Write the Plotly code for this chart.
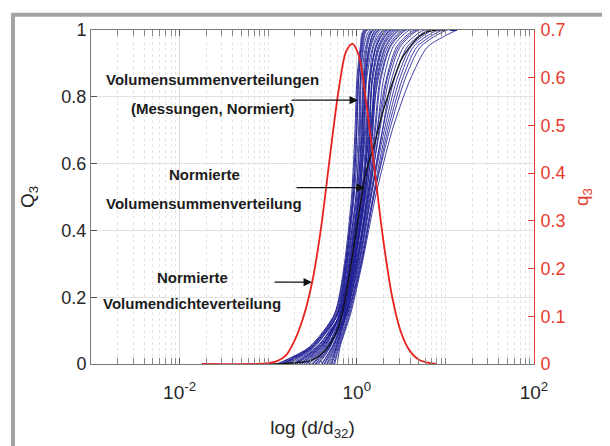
import numpy as np
import plotly.graph_objects as go

# ---------------- data ----------------
# Q3 levels at which each measured cumulative curve is sampled
q3_levels = [0.0, 0.05, 0.15, 0.30, 0.50, 0.70, 0.85, 0.95, 1.0]
# log10(d/d32) of each measured (normalised) curve at those Q3 levels
measured_log_x = [
    [-0.85, -0.51, -0.25, -0.14, -0.06, -0.02, 0.00, 0.04, 0.08],
    [-0.71, -0.44, -0.22, -0.13, -0.04, 0.00, 0.02, 0.06, 0.11],
    [-0.89, -0.53, -0.24, -0.12, -0.03, 0.02, 0.04, 0.08, 0.15],
    [-0.57, -0.37, -0.19, -0.11, -0.01, 0.04, 0.05, 0.10, 0.17],
    [-0.78, -0.48, -0.22, -0.10, 0.00, 0.06, 0.08, 0.14, 0.22],
    [-0.43, -0.30, -0.17, -0.08, 0.02, 0.06, 0.08, 0.12, 0.19],
    [-0.64, -0.41, -0.19, -0.07, 0.03, 0.09, 0.11, 0.18, 0.27],
    [-0.82, -0.50, -0.21, -0.06, 0.05, 0.11, 0.14, 0.22, 0.33],
    [-0.50, -0.33, -0.16, -0.05, 0.06, 0.14, 0.17, 0.25, 0.38],
    [-0.36, -0.26, -0.14, -0.04, 0.08, 0.16, 0.20, 0.29, 0.43],
    [-0.68, -0.42, -0.17, -0.03, 0.09, 0.18, 0.23, 0.33, 0.49],
    [-0.29, -0.23, -0.12, -0.02, 0.10, 0.20, 0.26, 0.37, 0.54],
    [-0.54, -0.35, -0.15, -0.01, 0.12, 0.23, 0.33, 0.45, 0.65],
    [-0.75, -0.46, -0.17, 0.00, 0.13, 0.26, 0.36, 0.49, 0.70],
    [-0.40, -0.28, -0.12, 0.02, 0.15, 0.29, 0.42, 0.57, 0.81],
    [-0.26, -0.21, -0.09, 0.04, 0.18, 0.33, 0.48, 0.64, 0.92],
    [-0.47, -0.32, -0.11, 0.05, 0.19, 0.37, 0.54, 0.72, 1.02],
    [-0.22, -0.19, -0.07, 0.06, 0.21, 0.40, 0.60, 0.80, 1.13],
    [-0.60, -0.39, -0.19, -0.08, 0.02, 0.08, 0.10, 0.16, 0.25],
    [-0.33, -0.24, -0.13, -0.03, 0.09, 0.15, 0.17, 0.24, 0.36],
    [-0.84, -0.51, -0.23, -0.11, -0.01, 0.03, 0.04, 0.07, 0.12],
    [-0.51, -0.34, -0.17, -0.07, 0.04, 0.08, 0.10, 0.14, 0.21],
    [-0.44, -0.31, -0.15, -0.04, 0.07, 0.12, 0.14, 0.19, 0.30],
    [-0.65, -0.41, -0.17, -0.01, 0.11, 0.18, 0.20, 0.28, 0.41],
    [-0.37, -0.27, -0.12, 0.00, 0.13, 0.23, 0.30, 0.41, 0.60],
    [-0.28, -0.22, -0.10, 0.03, 0.16, 0.29, 0.39, 0.53, 0.76],
    [-0.72, -0.45, -0.19, -0.06, 0.05, 0.15, 0.22, 0.32, 0.47],
    [-0.56, -0.36, -0.20, -0.12, -0.04, 0.00, 0.02, 0.05, 0.09],
    [-0.86, -0.52, -0.22, -0.07, 0.03, 0.10, 0.15, 0.22, 0.34],
    [-0.49, -0.33, -0.13, 0.02, 0.16, 0.31, 0.45, 0.61, 0.86],
    [-0.62, -0.40, -0.18, -0.09, 0.01, 0.05, 0.07, 0.11, 0.18],
    [-0.80, -0.49, -0.21, -0.09, 0.02, 0.07, 0.09, 0.15, 0.24],
    [-0.39, -0.28, -0.14, -0.05, 0.06, 0.12, 0.15, 0.21, 0.31],
    [-0.31, -0.23, -0.12, -0.02, 0.09, 0.17, 0.21, 0.30, 0.45],
    [-0.70, -0.43, -0.18, -0.04, 0.07, 0.13, 0.18, 0.26, 0.39],
    [-0.46, -0.31, -0.13, 0.00, 0.12, 0.21, 0.27, 0.38, 0.56],
    [-0.25, -0.20, -0.08, 0.05, 0.19, 0.35, 0.51, 0.68, 0.97],
    [-0.58, -0.38, -0.16, -0.03, 0.08, 0.16, 0.24, 0.35, 0.52],
    [-0.90, -0.54, -0.25, -0.13, -0.05, -0.01, 0.01, 0.05, 0.10],
    [-0.34, -0.25, -0.11, 0.01, 0.14, 0.25, 0.34, 0.47, 0.68],
]
measured_end_log_x = 1.13  # all measured curves run at Q3 = 1 up to here

# normalised cumulative distribution (black)
norm_log_x = [-1.0, -0.8, -0.6, -0.5, -0.4, -0.3, -0.2, -0.1, 0.0, 0.1, 0.2,
              0.3, 0.4, 0.5, 0.6, 0.7, 0.8, 0.9, 1.0]
norm_Q3 = [0.0, 0.002, 0.006, 0.012, 0.03, 0.06, 0.115, 0.24, 0.41, 0.57, 0.66,
           0.76, 0.84, 0.91, 0.95, 0.98, 0.995, 1.0, 1.0]

# normalised density distribution (red, right axis)
dens_log_x = [-1.75, -1.2, -1.0, -0.9, -0.8, -0.7, -0.6, -0.5, -0.4, -0.3, -0.2,
              -0.12, -0.05, 0.02, 0.1, 0.2, 0.3, 0.4, 0.5, 0.6, 0.7, 0.8, 0.9]
dens_q3 = [0.0, 0.0, 0.002, 0.006, 0.018, 0.05, 0.10, 0.175, 0.29, 0.44, 0.58,
           0.655, 0.671, 0.648, 0.556, 0.408, 0.258, 0.14, 0.066, 0.027, 0.009, 0.003, 0.0]

x_tick_vals = [1e-2, 1e0, 1e2]
x_tick_text = ["10<sup>-2</sup>", "10<sup>0</sup>", "10<sup>2</sup>"]
y_ticks = [0, 0.2, 0.4, 0.6, 0.8, 1]
y2_ticks = [0, 0.1, 0.2, 0.3, 0.4, 0.5, 0.6, 0.7]

# ---------------- figure ----------------
FONT = "Liberation Sans, Arial, sans-serif"
BLUE = "rgba(30,30,148,0.85)"
RED = "#E8231F"
RED_TXT = "#E63B2E"
DARK = "#262626"

fig = go.Figure()
for xs in measured_log_x:
    fig.add_trace(go.Scatter(
        x=[10 ** v for v in xs] + [10 ** measured_end_log_x],
        y=q3_levels + [1.0],
        mode="lines", line=dict(color=BLUE, width=1.0, shape="spline", smoothing=0.7),
        hoverinfo="skip", showlegend=False, yaxis="y"))

fig.add_trace(go.Scatter(
    x=[10 ** v for v in norm_log_x], y=norm_Q3, mode="lines",
    line=dict(color="#111111", width=1.3, shape="spline", smoothing=0.8),
    showlegend=False, yaxis="y"))

fig.add_trace(go.Scatter(
    x=[10 ** v for v in dens_log_x], y=dens_q3, mode="lines",
    line=dict(color=RED, width=1.8, shape="spline", smoothing=0.9),
    showlegend=False, yaxis="y2"))

minor_vals = [k * 10.0 ** n for n in range(-3, 2) for k in range(1, 10)] + [100.0]

OFF = 8  # page body margin
W, H = 602, 438
L, T = 91 - OFF, 26 - OFF
R = W - (534 - OFF)
B = H - (365 - OFF)
pw, ph = W - L - R, H - T - B

fig.update_layout(
    width=W, height=H, margin=dict(l=L, r=R, t=T, b=B),
    paper_bgcolor="white", plot_bgcolor="white",
    font=dict(family=FONT, color=DARK, size=18),
    xaxis=dict(
        type="log", range=[-3, 2],
        tickvals=x_tick_vals, ticktext=x_tick_text,
        ticks="inside", ticklen=6, tickcolor="#555555",
        showline=True, linecolor="#7a7a7a", linewidth=1, mirror="allticks",
        showgrid=True, gridcolor="#dcdcdc", gridwidth=1,
        minor=dict(tickvals=minor_vals, ticks="inside", ticklen=3,
                   tickcolor="#888888", showgrid=True, gridcolor="#e3e3e3",
                   griddash="dot", gridwidth=1),
        tickfont=dict(size=19, color=DARK), ticklabelstandoff=11,
        title=dict(text="log (d/d<sub>32</sub>)", font=dict(size=19, color=DARK), standoff=18),
        zeroline=False,
    ),
    yaxis=dict(
        range=[0, 1], tickvals=y_ticks, ticktext=["0", "0.2", "0.4", "0.6", "0.8", "1"],
        ticks="inside", ticklen=6, tickcolor="#555555",
        showline=True, linecolor="#7a7a7a", linewidth=1,
        showgrid=True, gridcolor="#e2e2e2", gridwidth=1.2, zeroline=False,
        tickfont=dict(size=18, color=DARK),
        title=dict(text="Q<sub>3</sub>", font=dict(size=19, color=DARK), standoff=21),
    ),
    yaxis2=dict(
        overlaying="y", side="right", range=[0, 0.7],
        tickvals=y2_ticks, ticktext=["0", "0.1", "0.2", "0.3", "0.4", "0.5", "0.6", "0.7"],
        ticks="inside", ticklen=6, tickcolor=RED_TXT,
        showline=True, linecolor=RED_TXT, linewidth=1,
        showgrid=False, zeroline=False,
        tickfont=dict(size=18, color=RED_TXT), ticklabelstandoff=2,
        title=dict(text="q<sub>3</sub>", font=dict(size=19, color=RED_TXT), standoff=10),
    ),
)

# grey figure frame (MATLAB-style window border)
fx0 = (13 - OFF - L) / pw
fx1 = (W + 10 - L) / pw
fy0 = (H - B - (H + 10)) / ph
fy1 = (H - B - (10.5 - OFF)) / ph
fig.add_shape(type="path", xref="paper", yref="paper",
              path=f"M {fx0},{fy0} L {fx0},{fy1} L {fx1},{fy1}",
              line=dict(color="#a3a3a3", width=4), layer="above")

TXT = dict(size=15, color="#1c1c1c", family=FONT)
def label(text, xp, yp):
    fig.add_annotation(text=f"<b>{text}</b>", xref="paper", yref="paper",
                       x=(xp - OFF - L) / pw, y=(H - B - (yp - OFF)) / ph,
                       showarrow=False, font=TXT, xanchor="center", yanchor="middle")

label("Volumensummenverteilungen", 212, 76)
label("(Messungen, Normiert)", 212, 106)
label("Normierte", 204, 173)
label("Volumensummenverteilung", 204, 202)
label("Normierte", 192, 277)
label("Volumendichteverteilung", 192, 304)

def arrow(log_x, q, ax):
    fig.add_annotation(x=log_x, y=q, xref="x", yref="y", text="", showarrow=True,
                       ax=ax, ay=0, arrowhead=2, arrowsize=1.4, arrowwidth=1.2,
                       arrowcolor="#111111")

arrow(0.013, 0.79, -68)
arrow(0.093, 0.528, -70)
arrow(-0.506, 0.245, -39)

fig.write_html("out.html")
